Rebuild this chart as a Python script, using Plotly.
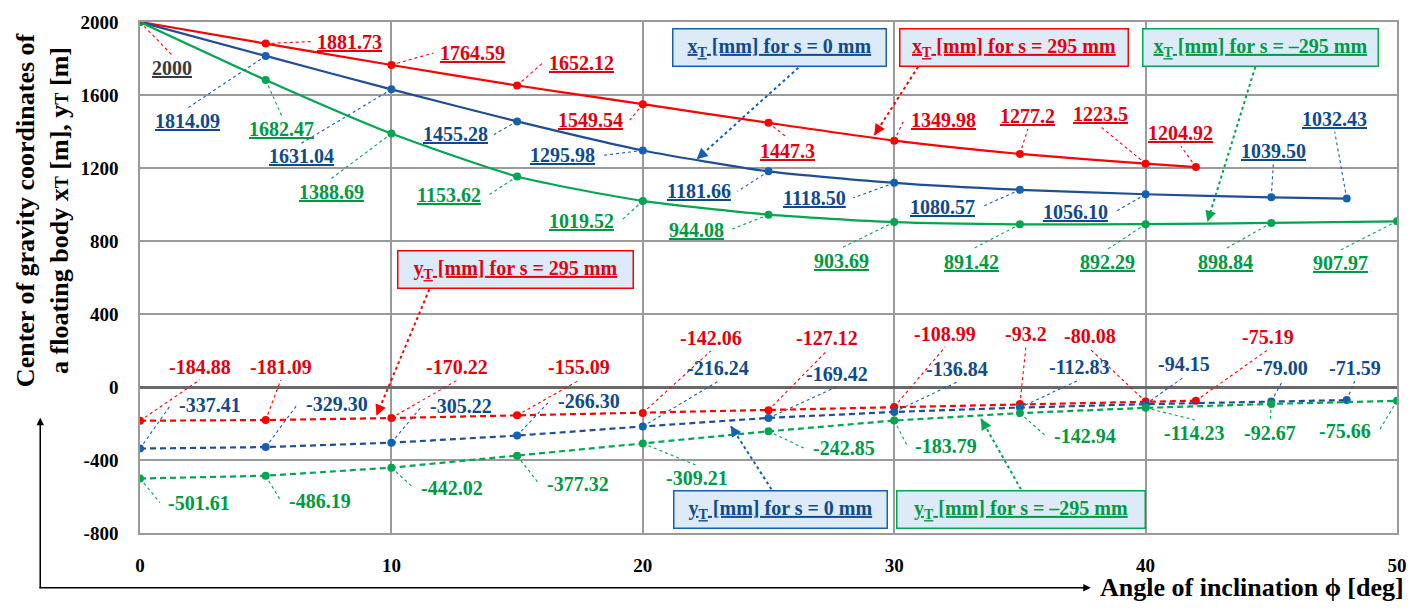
import plotly.graph_objects as go

# ---------------- data ----------------
angle_s295 = [0, 5, 10, 15, 20, 25, 30, 35, 40, 42]
xT_s295 = [2000, 1881.73, 1764.59, 1652.12, 1549.54, 1447.3, 1349.98, 1277.2, 1223.5, 1204.92]
yT_s295 = [-184.88, -181.09, -170.22, -155.09, -142.06, -127.12, -108.99, -93.2, -80.08, -75.19]
xT_s295_txt = ["2000", "1881.73", "1764.59", "1652.12", "1549.54", "1447.3", "1349.98", "1277.2", "1223.5", "1204.92"]
yT_s295_txt = ["-184.88", "-181.09", "-170.22", "-155.09", "-142.06", "-127.12", "-108.99", "-93.2", "-80.08", "-75.19"]

angle_s0 = [0, 5, 10, 15, 20, 25, 30, 35, 40, 45, 48]
xT_s0 = [2000, 1814.09, 1631.04, 1455.28, 1295.98, 1181.66, 1118.50, 1080.57, 1056.10, 1039.50, 1032.43]
yT_s0 = [-337.41, -329.30, -305.22, -266.30, -216.24, -169.42, -136.84, -112.83, -94.15, -79.00, -71.59]
xT_s0_txt = [None, "1814.09", "1631.04", "1455.28", "1295.98", "1181.66", "1118.50", "1080.57", "1056.10", "1039.50", "1032.43"]
yT_s0_txt = ["-337.41", "-329.30", "-305.22", "-266.30", "-216.24", "-169.42", "-136.84", "-112.83", "-94.15", "-79.00", "-71.59"]

angle_sm295 = [0, 5, 10, 15, 20, 25, 30, 35, 40, 45, 50]
xT_sm295 = [2000, 1682.47, 1388.69, 1153.62, 1019.52, 944.08, 903.69, 891.42, 892.29, 898.84, 907.97]
yT_sm295 = [-501.61, -486.19, -442.02, -377.32, -309.21, -242.85, -183.79, -142.94, -114.23, -92.67, -75.66]
xT_sm295_txt = [None, "1682.47", "1388.69", "1153.62", "1019.52", "944.08", "903.69", "891.42", "892.29", "898.84", "907.97"]
yT_sm295_txt = ["-501.61", "-486.19", "-442.02", "-377.32", "-309.21", "-242.85", "-183.79", "-142.94", "-114.23", "-92.67", "-75.66"]

x_ticks = [0, 10, 20, 30, 40, 50]
y_ticks = [-800, -400, 0, 400, 800, 1200, 1600, 2000]

# ---------------- label placement (pixel offsets from point: dx right, dy down) ----------------
off_xT_s295 = [(32, 46), (84, -2), (81, -12), (64, -22), (-52, 16), (19, 28), (49, -21), (8, -38), (-45, -50), (-15, -34)]
off_xT_s0 = [None, (-78, 65), (-90, 67), (-62, 13), (-80, 5), (-70, 20), (-80, 15), (-77, 17), (-70, 18), (2, -46), (-12, -80)]
off_xT_sm295 = [None, (16, 49), (-60, 58), (-68, 19), (-61, 20), (-72, 15), (-53, 39), (-48, 38), (-38, 38), (-46, 39), (-57, 42)]
off_yT_s295 = [(60, -54), (15, -53), (66, -51), (62, -48), (68, -75), (58, -72), (51, -73), (6, -70), (-56, -66), (72, -64)]
off_yT_s0 = [(70, -44), (71, -43), (70, -37), (72, -35), (75, -58), (68, -44), (63, -43), (60, -41), (38, -40), (11, -33), (8, -32)]
off_yT_sm295 = [(59, 24), (54, 25), (61, 20), (61, 28), (54, 35), (75, 17), (52, 25), (65, 23), (49, 25), (-1, 29), (-52, 30)]

RED, RED_T = "#ff0000", "#e3000f"
BLUE, BLUE_M, BLUE_T = "#1f4e96", "#1560b0", "#0f4a8c"
GREEN, GREEN_T = "#00a650", "#009a44"
FONT = "Liberation Serif"

# plot area in pixels
L, R, T, B = 140, 1400, 19, 533
W, H = 1419, 610

def px(p):
    return (p - L) / (R - L)

def py(p):
    return (B - p) / (B - T)

fig = go.Figure()

def add_series(xs, ys, color, mcolor, dashed):
    fig.add_trace(go.Scatter(
        x=xs, y=ys, mode="lines+markers",
        line=dict(color=color, width=2.2,
                  dash="6px,4px" if dashed else "solid",
                  shape="linear" if dashed else "spline", smoothing=0.6),
        marker=dict(color=mcolor, size=8),
        showlegend=False, hoverinfo="skip"))

add_series(angle_s295, xT_s295, RED, RED, False)
add_series(angle_s0, xT_s0, BLUE, BLUE_M, False)
add_series(angle_sm295, xT_sm295, GREEN, GREEN, False)
add_series(angle_s295, yT_s295, RED, RED, True)
add_series(angle_s0, yT_s0, BLUE, BLUE_M, True)
add_series(angle_sm295, yT_sm295, GREEN, GREEN, True)

annotations = []
shapes = []

def add_labels(xs, ys, texts, offs, color, underline, lcolor):
    for xv, yv, t, o in zip(xs, ys, texts, offs):
        if t is None or o is None:
            continue
        dx, dy = o
        c = color
        if t == "2000":
            c = "#3a3a3a"
        txt = f"<u>{t}</u>" if underline else t
        annotations.append(dict(
            x=xv, y=yv, xref="x", yref="y", text=txt, showarrow=False,
            xanchor="center", yanchor="middle", xshift=dx, yshift=-dy,
            font=dict(family=FONT, size=20, color=c, weight="bold")))
        hw = len(t) * 5.0
        hh = 10
        if abs(dy) - hh > abs(dx) - hw:
            ex = dx
            ey = dy - (hh + 3) if dy > 0 else dy + (hh + 3)
        else:
            ex = dx - (hw + 4) if dx > 0 else dx + (hw + 4)
            ey = dy
        shapes.append(dict(
            type="line", xref="x", yref="y", xsizemode="pixel", ysizemode="pixel",
            xanchor=xv, yanchor=yv, x0=0, y0=0, x1=ex, y1=-ey,
            line=dict(color=lcolor, width=1.1, dash="dot")))

add_labels(angle_s295, xT_s295, xT_s295_txt, off_xT_s295, RED_T, True, RED)
add_labels(angle_s0, xT_s0, xT_s0_txt, off_xT_s0, BLUE_T, True, BLUE_M)
add_labels(angle_sm295, xT_sm295, xT_sm295_txt, off_xT_sm295, GREEN_T, True, GREEN)
add_labels(angle_s295, yT_s295, yT_s295_txt, off_yT_s295, RED_T, False, RED)
add_labels(angle_s0, yT_s0, yT_s0_txt, off_yT_s0, BLUE_T, False, BLUE_M)
add_labels(angle_sm295, yT_sm295, yT_sm295_txt, off_yT_sm295, GREEN_T, False, GREEN)

# legend boxes: (text, text colour, line colour, center px, box width px, arrow tail px, arrow head px)
boxes = [
    ("x<sub>T</sub> [mm] for s = 0 mm", BLUE_T, BLUE_M, (781, 45), 216, (800, 65), (698, 157)),
    ("x<sub>T</sub> [mm] for s = 295 mm", RED_T, RED, (1016, 45), 231, (920, 64), (876, 133)),
    ("x<sub>T</sub> [mm] for s = \u2013295 mm", GREEN_T, GREEN, (1263, 45), 238, (1258, 64), (1210, 220)),
    ("y<sub>T</sub> [mm] for s = 295 mm", RED_T, RED, (516, 268), 238, (430, 288), (377, 415)),
    ("y<sub>T</sub> [mm] for s = 0 mm", BLUE_T, BLUE_M, (782, 509), 216, (773, 489), (732, 425)),
    ("y<sub>T</sub> [mm] for s = \u2013295 mm", GREEN_T, GREEN, (1023, 509), 251, (1023, 489), (983, 418)),
]
for txt, tc, lc, (cx, cy), bw, (tx, ty), (hx, hy) in boxes:
    annotations.append(dict(
        x=px(cx), y=py(cy), xref="paper", yref="paper", text=f"<u>{txt}</u>",
        showarrow=False, xanchor="center", yanchor="middle",
        width=bw - 14, height=26, borderpad=5, bgcolor="#dcebf7",
        bordercolor=lc, borderwidth=1.5,
        font=dict(family=FONT, size=20, color=tc, weight="bold")))
    shapes.append(dict(type="line", xref="paper", yref="paper",
                       x0=px(tx), y0=py(ty), x1=px(hx), y1=py(hy),
                       line=dict(color=lc, width=2, dash="dot")))
    vx, vy = hx - tx, hy - ty
    n = (vx ** 2 + vy ** 2) ** 0.5
    annotations.append(dict(
        x=px(hx), y=py(hy), xref="paper", yref="paper", text="",
        showarrow=True, arrowhead=2, arrowsize=1.1, arrowwidth=2, arrowcolor=lc,
        ax=-vx / n * 12, ay=-vy / n * 12, standoff=0))

# axis arrows
annotations.append(dict(x=px(40), y=py(417), xref="paper", yref="paper", text="",
                        showarrow=True, arrowhead=2, arrowsize=1, arrowwidth=1.5,
                        arrowcolor="black", ax=0, ay=171, standoff=0))
annotations.append(dict(x=px(1093), y=py(588), xref="paper", yref="paper", text="",
                        showarrow=True, arrowhead=2, arrowsize=1, arrowwidth=1.5,
                        arrowcolor="black", ax=-1053, ay=0, standoff=0))

# axis titles
annotations.append(dict(x=px(1255), y=py(588), xref="paper", yref="paper",
                        text="Angle of inclination \u03d5 [deg]", showarrow=False,
                        xanchor="center", yanchor="middle",
                        font=dict(family=FONT, size=26, color="black", weight="bold")))
annotations.append(dict(x=px(43), y=py(208), xref="paper", yref="paper",
                        text="Center of gravity coordinates of<br>a floating body x<span style='font-size:70%'>T</span> [m], y<span style='font-size:70%'>T</span> [m]",
                        showarrow=False, textangle=-90, xanchor="center", yanchor="middle",
                        font=dict(family=FONT, size=26, color="black", weight="bold")))

fig.update_layout(
    width=W, height=H,
    margin=dict(l=L, r=W - R, t=T, b=H - B),
    paper_bgcolor="white", plot_bgcolor="white",
    annotations=annotations, shapes=shapes,
    xaxis=dict(range=[0, 50], tickvals=x_ticks, ticktext=[str(v) for v in x_ticks],
               showgrid=True, gridcolor="#9a9a9a", gridwidth=1.5,
               showline=True, linecolor="#9a9a9a", linewidth=1.5, mirror=True,
               zeroline=False, ticks="outside", ticklen=14, tickcolor="rgba(0,0,0,0)",
               tickfont=dict(family=FONT, size=19, color="black", weight="bold")),
    yaxis=dict(range=[-800, 2000], tickvals=y_ticks, ticktext=[str(v) for v in y_ticks],
               showgrid=True, gridcolor="#9a9a9a", gridwidth=1.5,
               showline=True, linecolor="#9a9a9a", linewidth=1.5, mirror=True,
               zeroline=True, zerolinecolor="#6a6a6a", zerolinewidth=2.5,
               ticks="outside", ticklen=16, tickcolor="rgba(0,0,0,0)",
               tickfont=dict(family=FONT, size=19, color="black", weight="bold")),
)

fig.write_html("out.html")
